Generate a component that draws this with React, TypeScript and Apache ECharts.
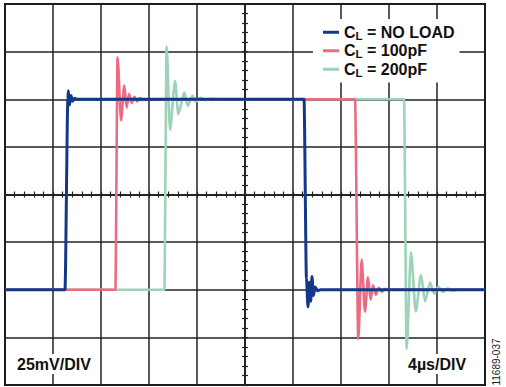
import React, { useEffect, useRef } from 'react';
import * as echarts from 'echarts';

// time in µs relative to screen centre (4 µs/DIV), voltage in mV relative to centre (25 mV/DIV)
const xTicks = { min: -20, max: 20, interval: 4 };
const yTicks = { min: -100, max: 100, interval: 25 };

const seriesNames = ['NO LOAD', '100pF', '200pF'];

const blueT = [-20, -15.0, -14.76, -14.72, -14.62, -14.5, -14.38, -14.2, -14.0, 4.92, 5.12, 5.25, 5.38, 5.48, 5.58, 5.7, 5.85, 6.05, 6.3, 20];
const blueV = [-50, -50, 50, 54.5, 47, 52, 49, 50.5, 50, 50, -44, -59, -46, -56, -43, -53, -48.5, -50.5, -50, -50];

const pinkT = [-20, -10.8, -10.62, -10.33, -10.06, -9.86, -9.67, -9.44, -9.22, -9.0, -8.75, -8.5, -8.2, 9.17, 9.44, 9.72, 10.0, 10.25, 10.47, 10.67, 10.9, 11.14, 11.4, 11.7, 12.0, 20];
const pinkV = [-50, -50, 72, 39, 57.2, 45.7, 52.7, 48.1, 51.3, 48.9, 50.6, 49.6, 50, 50, -75.7, -34.2, -61.5, -43.4, -55.2, -47.6, -52.6, -49, -51, -49.5, -50, -50];

const greenT = [-20, -6.72, -6.53, -6.25, -5.83, -5.56, -5.06, -4.78, -4.36, -4.11, -3.7, -3.3, -2.9, -2.5, 13.25, 13.47, 13.83, 14.23, 14.67, 15.0, 15.42, 15.75, 16.11, 16.5, 16.9, 17.3, 17.8, 18.3, 20];
const greenV = [-50, -50, 77.7, 34, 59.7, 42.2, 53.6, 46.6, 51.8, 48.7, 50.7, 49.5, 50.3, 50, 50, -81, -30.4, -61.4, -42.1, -56.1, -46.2, -52, -48.4, -51.2, -49.2, -50.6, -49.8, -50, -50];

const colors = { blue: '#13388a', pink: '#ec6b82', green: '#9dd3b7' };
const FONT = '"Liberation Sans", Arial, Helvetica, sans-serif';
const GRID_COLOR = '#222';

const pairs = (t: number[], v: number[]) => t.map((x, i) => [x, v[i]]);

const tickAxis = (position: string, range: any) => ({
  type: 'value',
  position,
  ...range,
  axisLine: { show: true, onZero: true, lineStyle: { color: GRID_COLOR, width: 1.5 } },
  axisTick: { show: true, inside: false, length: 3, lineStyle: { color: GRID_COLOR, width: 1.2 } },
  minorTick: { show: true, splitNumber: 5, length: 3, lineStyle: { color: GRID_COLOR, width: 1.2 } },
  axisLabel: { show: false },
  splitLine: { show: false },
});

const mainAxis = (position: string, range: any) => ({
  type: 'value',
  position,
  ...range,
  axisLine: { show: false },
  axisTick: { show: false },
  axisLabel: { show: false },
  splitLine: { show: true, lineStyle: { color: GRID_COLOR, width: 1.5 } },
});

export default function App() {
  const ref = useRef<HTMLDivElement>(null);
  useEffect(() => {
    const chart = echarts.init(ref.current!, null, { renderer: 'svg' });
    const lineSeries = (name: string, t: number[], v: number[], color: string, width: number) => ({
      type: 'line',
      name,
      data: pairs(t, v),
      symbol: 'none',
      smooth: 0.25,
      smoothMonotone: 'x',
      color,
      lineStyle: { color, width },
    });
    chart.setOption({
      animation: false,
      backgroundColor: '#fff',
      grid: { left: 5, top: 4, width: 480, height: 381, show: true, borderColor: '#111', borderWidth: 2, backgroundColor: 'transparent' },
      xAxis: [mainAxis('bottom', xTicks), tickAxis('bottom', xTicks), tickAxis('top', xTicks)],
      yAxis: [mainAxis('left', yTicks), tickAxis('left', yTicks), tickAxis('right', yTicks)],
      legend: {
        data: seriesNames,
        orient: 'vertical',
        left: 313,
        top: 19,
        padding: [4, 5, 4, 10],
        backgroundColor: '#fff',
        itemWidth: 16,
        itemHeight: 3,
        itemGap: 0,
        icon: 'rect',
        selectedMode: false,
        z: 10,
        formatter: (n: string) => `C{sub|L} = ${n}`,
        textStyle: {
          fontFamily: FONT,
          fontWeight: 'bold',
          fontSize: 16,
          color: '#111',
          lineHeight: 18.5,
          rich: {
            sub: { fontFamily: FONT, fontWeight: 'bold', fontSize: 11.5, color: '#111', lineHeight: 11, verticalAlign: 'bottom' },
          },
        },
      },
      series: [
        lineSeries(seriesNames[2], greenT, greenV, colors.green, 2.6),
        lineSeries(seriesNames[1], pinkT, pinkV, colors.pink, 2.6),
        lineSeries(seriesNames[0], blueT, blueV, colors.blue, 3),
      ],
      graphic: [
        {
          type: 'text', left: 15, top: 354, z: 10,
          style: { text: '25mV/DIV', font: `bold 16px ${FONT}`, fill: '#111', backgroundColor: '#fff', padding: [2, 2, 2, 2] },
        },
        {
          type: 'text', left: 406, top: 354, z: 10,
          style: { text: '4µs/DIV', font: `bold 16px ${FONT}`, fill: '#111', backgroundColor: '#fff', padding: [2, 2, 2, 2] },
        },
        {
          type: 'text', x: 496, y: 362, rotation: Math.PI / 2, z: 10,
          style: { text: '11689-037', font: `10px ${FONT}`, fill: '#222', align: 'center', verticalAlign: 'middle' },
        },
      ],
    });
    return () => chart.dispose();
  }, []);
  return <div ref={ref} style={{ position: 'fixed', left: 0, top: 0, width: 506, height: 387 }} />;
}
